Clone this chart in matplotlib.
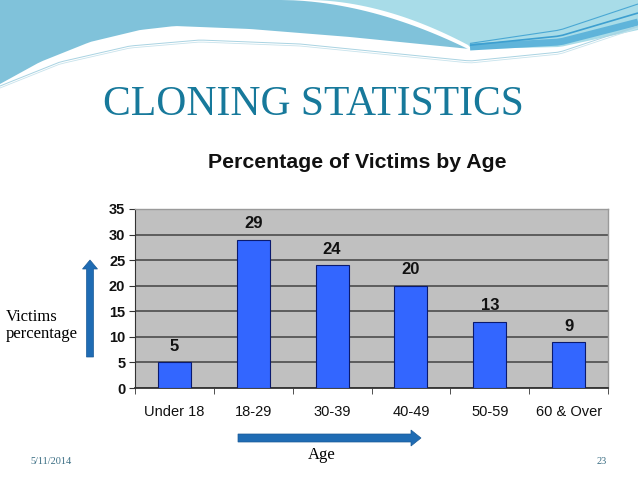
import matplotlib
matplotlib.use("Agg")
import matplotlib.pyplot as plt
import numpy as np
from matplotlib.patches import FancyArrow, Polygon

# data
categories = ["Under 18", "18-29", "30-39", "40-49", "50-59", "60 & Over"]
victims_pct = [5, 29, 24, 20, 13, 9]
y_ticks = [0, 5, 10, 15, 20, 25, 30, 35]

W, H = 638, 479
fig = plt.figure(figsize=(W / 100, H / 100), dpi=100)
fig.patch.set_facecolor("white")

# ---------------------- slide background (pixel coords) ------------------------
bg = fig.add_axes([0, 0, 1, 1])
bg.set_xlim(0, W)
bg.set_ylim(H, 0)
bg.axis("off")

# lower edge of the wave, left to right
wx = np.linspace(0, W, 120)
wy = np.interp(wx, [0, 40, 90, 140, 175, 250, 350, 470, 560, 638],
               [84, 62, 42, 30, 26, 29, 37, 49, 47, 30])
# edges of the white band between the two blue areas
bx = np.linspace(0, 1, 30)
band_l = [(281 + 187 * t ** 0.8, 49 * t ** 1.5) for t in bx]
band_r = [(309 + 159 * t ** 0.8, 45 * t ** 1.5) for t in bx]

mask = wx <= 470
left_pts = [(0, 0)] + band_l + list(zip(wx[mask][::-1], wy[mask][::-1]))
bg.add_patch(Polygon(left_pts, closed=True, facecolor="#80c2da", edgecolor="none"))

right_pts = band_r + list(zip(wx[~mask], wy[~mask])) + [(W, 0), (309, 0)]
bg.add_patch(Polygon(right_pts, closed=True, facecolor="#a8dce8", edgecolor="none"))

# darker stripes on the right
rx = np.linspace(470, W, 30)
for off, col, lw in [(0, "#5fb4da", 5), (-6, "#3d9fd0", 1.2), (-12, "#4aa8d4", 0.8)]:
    ry = np.interp(rx, [470, 560, 638], [47 + off * 0.3, 42 + off, 22 + off * 1.5])
    bg.plot(rx, ry, color=col, lw=lw, solid_capstyle="butt")

# thin double line under the wave
ty = np.interp(wx, [0, 60, 130, 200, 300, 400, 470, 560, 638],
               [86, 62, 46, 40, 44, 54, 61, 52, 26])
bg.plot(wx, ty, color="#a9d3e2", lw=0.7)
bg.plot(wx, ty + 2, color="#c8e3ec", lw=0.6)

# slide title and side texts
fig.text(103 / W, 1 - 115 / H, "CLONING STATISTICS", family="Liberation Serif",
         fontsize=30, color="#17799b", va="baseline", ha="left")
fig.text(6 / W, 1 - 321 / H, "Victims", family="Liberation Serif",
         fontsize=12, color="black", va="baseline", ha="left")
fig.text(6 / W, 1 - 338 / H, "percentage", family="Liberation Serif",
         fontsize=12, color="black", va="baseline", ha="left")
fig.text(322 / W, 1 - 459 / H, "Age", family="Liberation Serif",
         fontsize=12, color="black", va="baseline", ha="center")
fig.text(30 / W, 1 - 462 / H, "5/11/2014", family="Liberation Serif",
         fontsize=7.4, color="#3b6e84", va="center", ha="left")
fig.text(607 / W, 1 - 462 / H, "23", family="Liberation Serif",
         fontsize=7.4, color="#3b6e84", va="center", ha="right")

# arrows
bg.add_patch(FancyArrow(90, 357, 0, -97, width=7, head_width=15, head_length=9,
                        length_includes_head=True, facecolor="#1f6cb4", edgecolor="#1a5a96", lw=0.5))
bg.add_patch(FancyArrow(238, 438, 183, 0, width=8, head_width=16, head_length=10,
                        length_includes_head=True, facecolor="#1f6cb4", edgecolor="#1a5a96", lw=0.5))

# ---------------------- chart ------------------------
fig.text(357 / W, 1 - 163 / H, "Percentage of Victims by Age", family="Liberation Sans",
         fontsize=15.3, fontweight="bold", ha="center", va="center", color="#111111")

left, right, top, bottom = 135, 608, 209, 388
ax = fig.add_axes([left / W, 1 - bottom / H, (right - left) / W, (bottom - top) / H])
ax.set_facecolor("#c0c0c0")

x = np.arange(len(categories))
bars = ax.bar(x, victims_pct, width=0.42, color="#3366ff", edgecolor="#0a1a6e", linewidth=0.8, zorder=3)
for xi, v in zip(x, victims_pct):
    ax.annotate(str(v), (xi, v), xytext=(0, 6), textcoords="offset points", ha="center", va="bottom",
                family="Liberation Sans", fontsize=12, fontweight="bold", color="#111111")

ax.set_xlim(-0.5, len(categories) - 0.5)
ax.set_ylim(0, 35)
ax.set_yticks(y_ticks)
ax.set_yticklabels([str(t) for t in y_ticks], family="Liberation Sans", fontsize=10.5,
                   fontweight="bold", color="#111111")
ax.yaxis.grid(True, color="#555555", lw=1.3, zorder=1)
ax.set_axisbelow(True)

ax.set_xticks(x)
ax.set_xticklabels(categories, family="Liberation Sans", fontsize=10.5, color="#111111")
ax.set_xticks(np.arange(-0.5, len(categories)), minor=True)
ax.tick_params(axis="x", which="major", length=0, pad=12)
ax.tick_params(axis="x", which="minor", length=4, direction="out", color="#333333")
ax.tick_params(axis="y", length=4, direction="out", color="#333333", pad=3)

for side in ["top", "right"]:
    ax.spines[side].set_color("#9a9a9a")
    ax.spines[side].set_linewidth(1)
ax.spines["left"].set_color("#333333")
ax.spines["bottom"].set_color("#333333")
ax.spines["bottom"].set_linewidth(1.3)

fig.savefig("out.png", dpi=100, facecolor="white")
